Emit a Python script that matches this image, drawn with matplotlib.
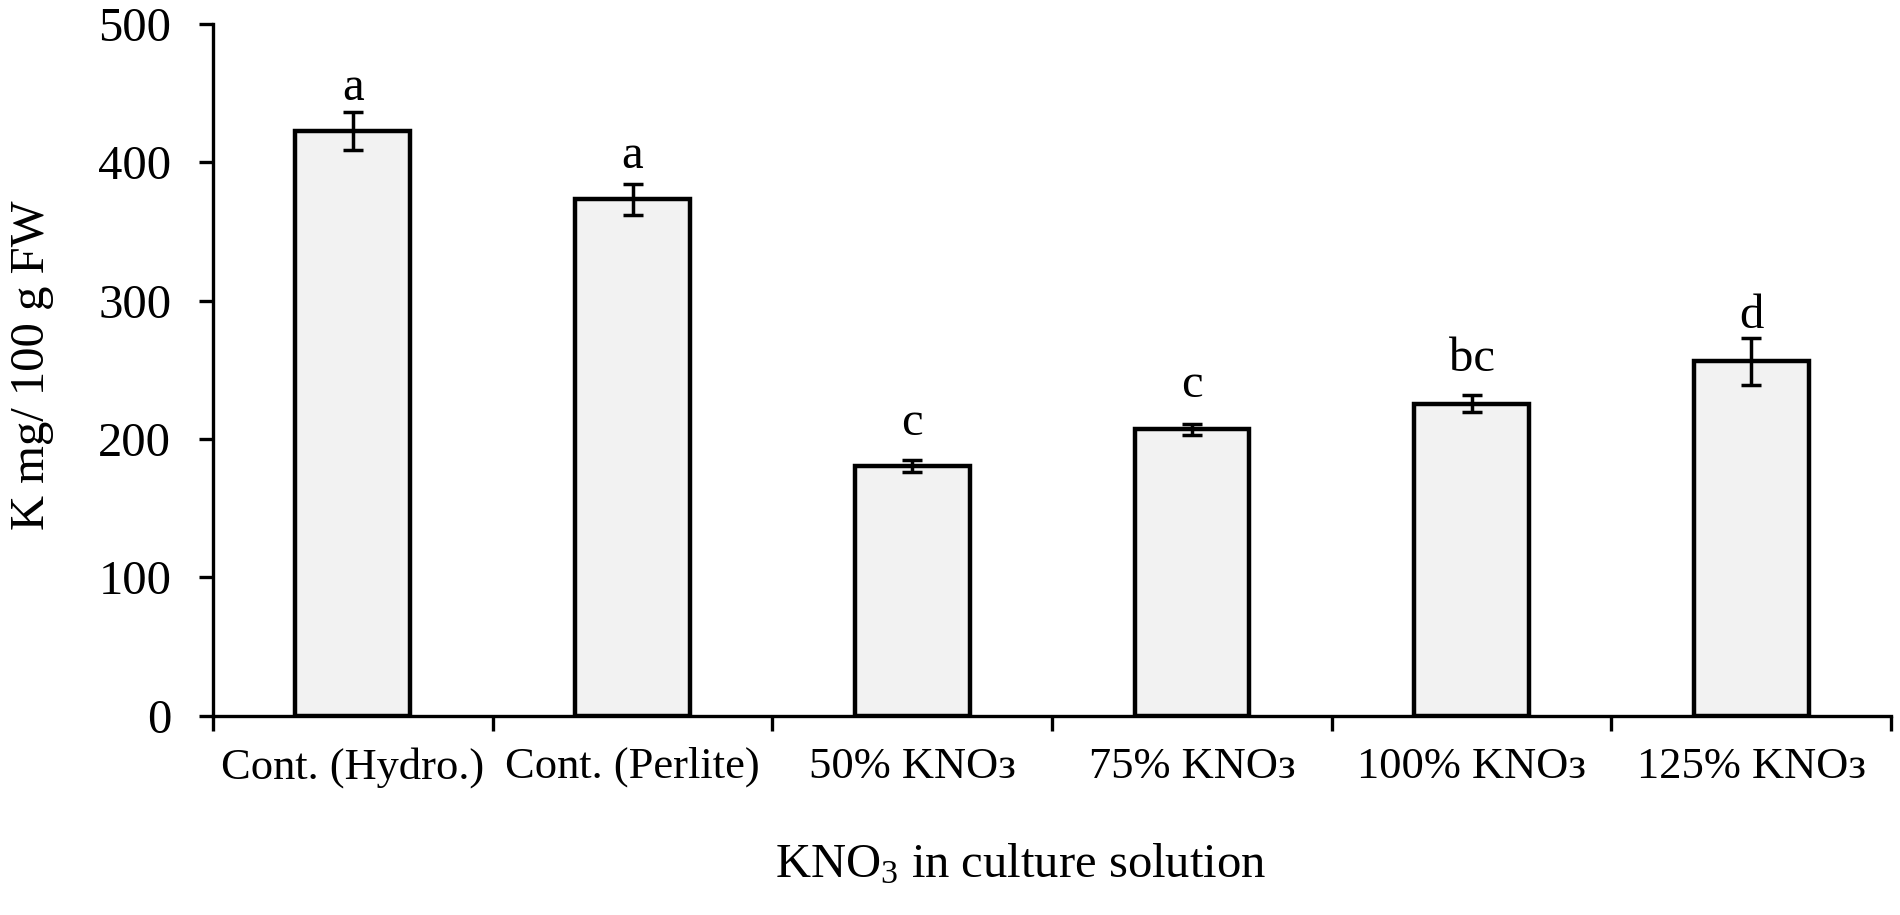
import numpy as np
import matplotlib
matplotlib.use("Agg")
import matplotlib.pyplot as plt

plt.rcParams['font.family'] = ['Liberation Serif', 'DejaVu Serif']
plt.rcParams['mathtext.fontset'] = 'custom'
plt.rcParams['mathtext.rm'] = 'Liberation Serif'
plt.rcParams['mathtext.it'] = 'Liberation Serif:italic'

# data
categories = ['Cont. (Hydro.)', 'Cont. (Perlite)', '50% KNOз', '75% KNOз', '100% KNOз', '125% KNOз']
k_means = [422.5, 373, 180.5, 207, 225.5, 256]
k_errors = [13.5, 11, 4.5, 4, 6, 17]
letters = ['a', 'a', 'c', 'c', 'bc', 'd']
letter_y = [445, 396, 203, 230, 249, 280]  # baseline of the significance letters (data units)
y_ticks = [0, 100, 200, 300, 400, 500]

fig = plt.figure(figsize=(19, 9.15), dpi=100)
ax = fig.add_axes([0.1121, 0.2175, 0.9953 - 0.1121, 0.9743 - 0.2175])

x = np.arange(len(categories))
ax.bar(x, k_means, width=0.41, color='#f2f2f2', edgecolor='black', linewidth=3.2, zorder=2)
ax.errorbar(x, k_means, yerr=k_errors, fmt='none', ecolor='black',
            elinewidth=2.5, capsize=7.5, capthick=2.5, zorder=3)

for xi, lab, ly in zip(x, letters, letter_y):
    ax.text(xi, ly, lab, ha='center', va='baseline', fontsize=35)

ax.set_xlim(-0.5, len(categories) - 0.5)
ax.set_ylim(0, 500)
ax.set_yticks(y_ticks)
ax.tick_params(axis='y', labelsize=35, length=10, width=2.4, direction='out', pad=20)

# boundary ticks without labels, category names on minor ticks
ax.set_xticks(np.arange(len(categories) + 1) - 0.5)
ax.set_xticklabels([])
ax.set_xticks(x, minor=True)
ax.set_xticklabels(categories, minor=True)
ax.tick_params(axis='x', which='major', length=11, width=2.4, direction='out')
ax.tick_params(axis='x', which='minor', length=0, labelsize=32, pad=22)

for side in ['top', 'right']:
    ax.spines[side].set_visible(False)
for side in ['left', 'bottom']:
    ax.spines[side].set_linewidth(2.4)

ax.set_ylabel('K mg/ 100 g FW', fontsize=35)
ax.yaxis.set_label_coords(-0.095, 0.507)
fig.text(0.537, 0.0415, 'KNO$_3$ in culture solution', fontsize=35,
         ha='center', va='baseline')

fig.savefig('out.png', dpi=100, facecolor='white')
